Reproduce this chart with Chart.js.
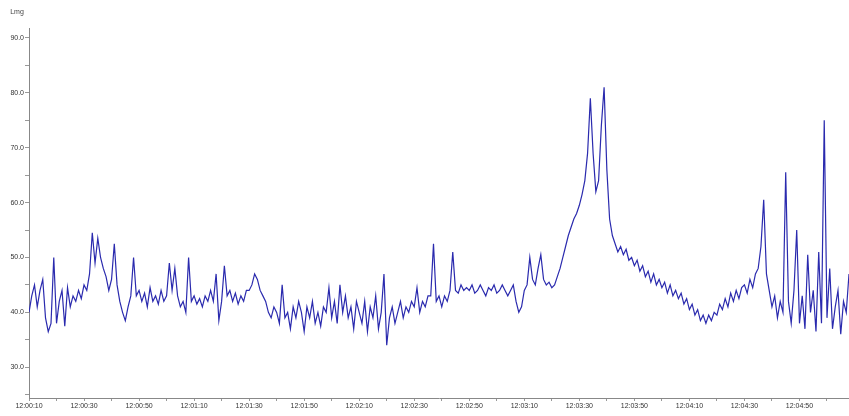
<!DOCTYPE html>
<html>
<head>
<meta charset="utf-8">
<script src="https://cdn.jsdelivr.net/npm/chart.js@4.4.1/dist/chart.umd.min.js"></script>
<style>
  html, body { margin: 0; padding: 0; background: #fff; }
  #wrap { width: 849px; height: 416px; position: relative; }
</style>
</head>
<body>
<div id="wrap"><canvas id="c"></canvas></div>
<script>
// seconds after 12:00:10, one reading per second
const startSec = 12 * 3600 + 10;
const unitLabel = 'Lmg';
const yTickValues = [25, 30, 35, 40, 45, 50, 55, 60, 65, 70, 75, 80, 85, 90];

const readings = [
    40, 43, 45, 41, 44, 46, 39, 36.5, 38, 50,
    38, 42, 44, 37.5, 44.5, 41, 43, 42, 44, 42.5,
    45, 44, 47, 54.5, 49, 53.5, 50, 48, 46.5, 44,
    46, 52.5, 45, 42, 40, 38.5, 41, 43, 50, 43,
    44, 42, 43.5, 41, 44.5, 42, 43, 41.5, 44, 42,
    43, 49, 44, 48, 43, 41, 42, 40, 50, 42,
    43, 41.5, 42.5, 41, 43, 42, 44, 42, 47, 38.5,
    42, 48.5, 43, 44, 42, 43.5, 41.5, 43, 42, 44,
    44, 45, 47, 46, 44, 43, 42, 40, 39, 41,
    40, 38, 45, 39, 40, 37, 41, 39, 42, 40,
    36.5, 41, 39, 42, 38, 40, 37.5, 41, 40, 44.5,
    39, 42, 38, 45, 40, 43, 39, 41, 37, 42,
    40, 38, 42, 36.5, 41, 39, 43, 37, 40, 47,
    34, 39, 41, 38, 40, 42, 39, 41, 40, 42,
    41, 44.5, 40, 42, 41, 43, 43, 52.5, 42, 43,
    41, 43, 42, 44, 51, 44, 43.5, 45, 44, 44.5,
    44, 45, 43.5, 44, 45, 44, 43, 44.5, 44, 45,
    43.5, 44, 45, 44, 43, 44, 45, 42, 40, 41,
    44, 45, 50, 46, 45, 48, 50.5, 46, 45, 45.5,
    44.5, 45, 46.5, 48, 50, 52, 54, 55.5, 57, 58,
    59.5, 61.5, 64, 69, 79, 69, 62, 64, 74, 81,
    66, 57, 54, 52.5, 51, 52, 50.5, 51.5, 49.5, 50,
    48.5, 49.5, 47.5, 48.5, 46.5, 47.5, 45.5, 47, 45, 46,
    44.5, 45.5, 43.5, 45, 43, 44, 42.5, 43.5, 41.5, 42.5,
    40.5, 41.5, 39.5, 40.5, 38.5, 39.5, 38, 39.5, 38.5, 40,
    39.5, 41.5, 40.5, 42.5, 41, 43.5, 42, 44, 42.5, 44.5,
    45, 43.5, 46, 44.5, 47, 48, 52, 60.5, 47, 44,
    41, 43, 39, 42, 40, 65.5, 42, 38, 44, 55,
    38, 43, 37, 50.5, 40, 44, 36.5, 51, 38, 75,
    39, 48, 37, 41, 44, 36, 42, 40, 47
];

const points = readings.map((v, i) => ({ x: i, y: v }));

function clock(sec) {
    const s = startSec + sec;
    const hh = Math.floor(s / 3600);
    const mm = Math.floor((s % 3600) / 60);
    const ss = s % 60;
    return hh + ':' + String(mm).padStart(2, '0') + ':' + String(ss).padStart(2, '0');
}

// small unit text above the value axis
const unitPlugin = {
    id: 'unitText',
    afterDraw(chart) {
        const c = chart.ctx;
        c.save();
        c.font = '7px "Liberation Sans", Arial, sans-serif';
        c.fillStyle = '#444';
        c.textAlign = 'center';
        c.fillText(unitLabel, chart.chartArea.left - 12, 14);
        c.restore();
    }
};

new Chart(document.getElementById('c'), {
    type: 'line',
    data: {
        datasets: [{
            data: points,
            borderColor: '#2a2aae',
            borderWidth: 1.2,
            pointRadius: 0,
            tension: 0,
            fill: false
        }]
    },
    options: {
        responsive: true,
        maintainAspectRatio: false,
        animation: false,
        events: [],
        layout: { padding: { top: 28, right: 0, left: 0, bottom: 0 } },
        plugins: {
            legend: { display: false },
            tooltip: { enabled: false }
        },
        scales: {
            x: {
                type: 'linear',
                min: 0,
                max: 298,
                afterFit: (s) => { s.height = 18; },
                afterBuildTicks: (s) => {
                    const t = [];
                    for (let v = 0; v <= 298; v += 10) t.push({ value: v });
                    s.ticks = t;
                },
                grid: { drawOnChartArea: false, tickLength: 3, color: '#999' },
                border: { color: '#888' },
                ticks: {
                    autoSkip: false,
                    maxRotation: 0,
                    padding: 1,
                    color: '#333',
                    font: { size: 7, family: '"Liberation Sans", Arial, sans-serif' },
                    callback: (v) => (v % 20 === 0 ? clock(v) : '')
                }
            },
            y: {
                min: 24.4,
                max: 91.8,
                afterFit: (s) => { s.width = 29; },
                afterBuildTicks: (s) => {
                    s.ticks = yTickValues.map(v => ({ value: v }));
                },
                grid: { drawOnChartArea: false, tickLength: 4, color: '#999' },
                border: { color: '#888' },
                ticks: {
                    padding: 1,
                    color: '#333',
                    font: { size: 7, family: '"Liberation Sans", Arial, sans-serif' },
                    callback: (v) => (v % 10 === 0 ? v.toFixed(1) : '')
                }
            }
        }
    },
    plugins: [unitPlugin]
});
</script>
</body>
</html>
